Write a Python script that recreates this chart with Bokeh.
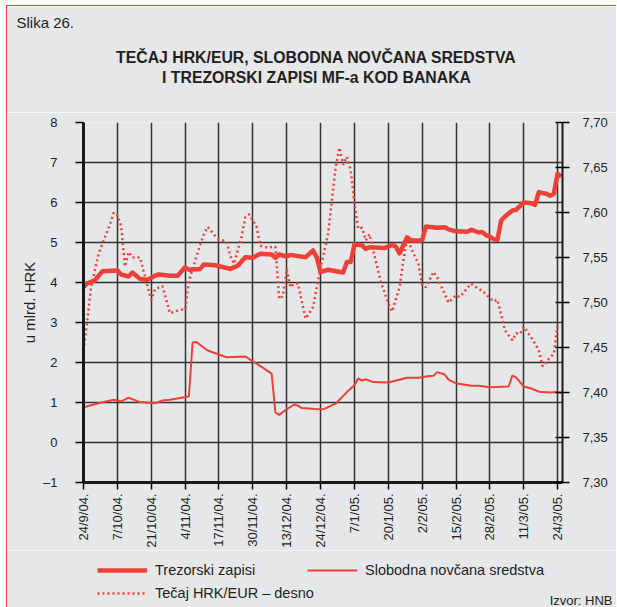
from bokeh.plotting import figure
from bokeh.models import Range1d, LinearAxis, FixedTicker, Label, Legend, LegendItem
from bokeh.layouts import column
from bokeh.embed import file_html
from bokeh.resources import INLINE
import math

# ---------------- data ----------------
date_labels = ["24/9/04.", "7/10/04.", "21/10/04.", "4/11/04.", "17/11/04.", "30/11/04.",
               "13/12/04.", "24/12/04.", "7/1/05.", "20/1/05.", "2/2/05.", "15/2/05.",
               "28/2/05.", "11/3/05.", "24/3/05."]
tick_days = [0, 9, 18, 27, 36, 45, 54, 63, 72, 81, 90, 99, 108, 117, 126]

# Trezorski zapisi (u mlrd. HRK), working-day index
tz_day = [0, 1, 3, 5, 9, 10, 12, 13, 15, 17, 19, 20, 23, 25, 27, 28, 31, 32, 35, 39,
          41, 43, 45, 47, 50, 51, 52, 54, 55, 59, 61, 62, 63, 65, 69, 70, 71, 72, 74, 75,
          76, 80, 82, 83, 84, 86, 87, 90, 91, 94, 96, 97, 99, 102, 103, 105, 106, 107, 108, 109,
          110, 111, 112, 114, 115, 117, 119, 120, 121, 123, 124, 125, 126, 127]
tz_val = [3.88, 3.98, 4.05, 4.28, 4.30, 4.20, 4.15, 4.25, 4.09, 4.07, 4.17, 4.20, 4.17, 4.17, 4.38, 4.32, 4.34, 4.45, 4.43, 4.34,
          4.42, 4.63, 4.62, 4.72, 4.70, 4.62, 4.70, 4.65, 4.69, 4.63, 4.80, 4.63, 4.26, 4.32, 4.25, 4.51, 4.51, 4.95, 4.93, 4.84,
          4.88, 4.86, 4.94, 4.90, 4.73, 5.13, 5.05, 5.05, 5.40, 5.37, 5.38, 5.33, 5.28, 5.27, 5.32, 5.25, 5.26, 5.18, 5.15, 5.08,
          5.07, 5.55, 5.65, 5.80, 5.82, 6.00, 5.98, 5.94, 6.26, 6.22, 6.17, 6.22, 6.72, 6.65]

# Slobodna novčana sredstva (u mlrd. HRK)
sn_day = [0, 4, 8, 10, 12, 15, 19, 21, 23, 28, 29, 30, 32, 33, 36, 38, 43, 46, 50, 51,
          52, 54, 56, 57, 58, 60, 62, 64, 67, 70, 72, 73, 74, 75, 77, 81, 86, 89, 92, 93,
          94, 96, 97, 99, 103, 105, 108, 113, 114, 115, 117, 119, 121, 124, 126, 127]
sn_val = [0.88, 0.98, 1.07, 1.03, 1.12, 1.01, 0.98, 1.05, 1.07, 1.15, 2.50, 2.51, 2.37, 2.30, 2.20, 2.13, 2.15, 1.97, 1.72, 0.75,
          0.69, 0.83, 0.95, 0.92, 0.86, 0.85, 0.83, 0.84, 0.97, 1.26, 1.43, 1.60, 1.55, 1.58, 1.51, 1.50, 1.62, 1.62, 1.66, 1.67,
          1.76, 1.70, 1.57, 1.48, 1.42, 1.42, 1.38, 1.40, 1.68, 1.62, 1.40, 1.35, 1.27, 1.25, 1.26, 1.24]

# Tečaj HRK/EUR (desna os)
fx_day = [0, 1, 2, 4, 6, 7, 8, 9, 10, 11, 12, 13, 15, 16, 18, 19, 21, 23, 25, 27,
          28, 30, 32, 33, 35, 36, 38, 39, 40, 42, 43, 44, 46, 47, 49, 51, 52, 53, 54, 55,
          56, 57, 59, 61, 63, 65, 66, 67, 68, 69, 70, 71, 72, 73, 74, 75, 76, 77, 79, 81,
          82, 84, 85, 86, 88, 89, 90, 91, 93, 94, 97, 99, 100, 103, 105, 106, 109, 110, 112, 114,
          115, 116, 117, 119, 121, 122, 124, 125, 126]
fx_val = [7.447, 7.480, 7.517, 7.554, 7.576, 7.586, 7.600, 7.597, 7.585, 7.540, 7.556, 7.550, 7.550, 7.534, 7.503, 7.515, 7.518, 7.488, 7.491, 7.493,
          7.524, 7.551, 7.576, 7.584, 7.574, 7.570, 7.568, 7.552, 7.543, 7.573, 7.595, 7.598, 7.584, 7.563, 7.561, 7.562, 7.504, 7.507, 7.537, 7.517,
          7.521, 7.521, 7.482, 7.495, 7.539, 7.576, 7.613, 7.650, 7.672, 7.653, 7.662, 7.647, 7.610, 7.582, 7.583, 7.569, 7.576, 7.558, 7.523, 7.499,
          7.490, 7.517, 7.547, 7.571, 7.552, 7.543, 7.519, 7.517, 7.534, 7.528, 7.500, 7.508, 7.506, 7.521, 7.515, 7.513, 7.501, 7.503, 7.469, 7.458,
          7.466, 7.465, 7.473, 7.461, 7.447, 7.429, 7.439, 7.443, 7.476]

left_ticks = [-1, 0, 1, 2, 3, 4, 5, 6, 7, 8]
left_labels = ["–1", "0", "1", "2", "3", "4", "5", "6", "7", "8"]
right_ticks = [7.30, 7.35, 7.40, 7.45, 7.50, 7.55, 7.60, 7.65, 7.70]
right_labels = ["7,30", "7,35", "7,40", "7,45", "7,50", "7,55", "7,60", "7,65", "7,70"]

series_names = ["Trezorski zapisi", "Slobodna novčana sredstva", "Tečaj HRK/EUR – desno"]

# ---------------- style ----------------
BG = "#e6e7e9"
RED = "#ee4036"
TXT = "#231f20"
GRID = "#333333"
FONT = "Liberation Sans"
W = 609
TOP_H = 106
BOT_H = 58

TZ_STYLE = dict(line_color=RED, line_width=4.5, line_join="round")
SN_STYLE = dict(line_color=RED, line_width=2)
FX_STYLE = dict(line_color=RED, line_width=2.5, line_dash="2 3")


def blank_fig(h):
    f = figure(width=W, height=h, x_range=Range1d(0, 1), y_range=Range1d(0, 1),
               x_axis_type=None, y_axis_type=None, output_backend="svg", toolbar_location=None,
               min_border=0, background_fill_color=BG, border_fill_color=BG, frame_align=False)
    f.outline_line_color = None
    f.xgrid.visible = False
    f.ygrid.visible = False
    return f


def add_label(f, text, x, y, size, align="left", style="normal"):
    f.add_layout(Label(x=x, y=y, x_units="screen", y_units="screen", text=text,
                       text_align=align, text_baseline="middle", text_font=FONT,
                       text_font_size=size, text_font_style=style, text_color=TXT))


# ---------- top: caption + title ----------
top = blank_fig(TOP_H)
add_label(top, "Slika 26.", 9, 90, "15px")
add_label(top, "TEČAJ HRK/EUR, SLOBODNA NOVČANA SREDSTVA", 309, 55, "15.8px", "center", "bold")
add_label(top, "I TREZORSKI ZAPISI MF-a KOD BANAKA", 309, 35, "15.8px", "center", "bold")

# ---------- main chart ----------
p = figure(frame_width=479, frame_height=360,
           x_range=Range1d(0, 127.3), y_range=Range1d(-1, 8),
           output_backend="svg", toolbar_location=None, frame_align=False,
           min_border_left=76, min_border_right=W - 76 - 479, min_border_top=10, min_border_bottom=66,
           background_fill_color=BG, border_fill_color=BG)
p.outline_line_color = None
p.extra_y_ranges = {"fx": Range1d(7.30, 7.70)}

xa = p.xaxis[0]
xa.ticker = FixedTicker(ticks=tick_days)
xa.major_label_overrides = {d: l for d, l in zip(tick_days, date_labels)}
xa.major_label_orientation = math.pi / 2
xa.axis_line_width = 3
xa.axis_line_color = "#1a1a1a"
xa.major_tick_in = 0
xa.major_tick_out = 7
xa.major_tick_line_width = 1.5
xa.minor_tick_line_color = None
xa.major_label_text_font = FONT
xa.major_label_text_font_size = "13px"
xa.major_label_text_color = TXT
xa.major_label_standoff = 4

ya = p.yaxis[0]
ya.ticker = FixedTicker(ticks=left_ticks)
ya.major_label_overrides = {t: l for t, l in zip(left_ticks, left_labels)}
ya.axis_line_width = 3
ya.axis_line_color = "#1a1a1a"
ya.major_tick_in = 0
ya.major_tick_out = 8
ya.major_tick_line_width = 1.5
ya.minor_tick_line_color = None
ya.major_label_text_font = FONT
ya.major_label_text_font_size = "13px"
ya.major_label_text_color = TXT
ya.major_label_standoff = 18
ya.axis_label = "u mlrd. HRK"
ya.axis_label_text_font = FONT
ya.axis_label_text_font_size = "15px"
ya.axis_label_text_font_style = "normal"
ya.axis_label_text_color = TXT
ya.axis_label_standoff = 2

ra = LinearAxis(y_range_name="fx", ticker=FixedTicker(ticks=right_ticks))
ra.major_label_overrides = {t: l for t, l in zip(right_ticks, right_labels)}
ra.axis_line_width = 2
ra.axis_line_color = "#1a1a1a"
ra.major_tick_in = 7
ra.major_tick_out = 7
ra.major_tick_line_width = 1.5
ra.minor_tick_line_color = None
ra.major_label_text_font = FONT
ra.major_label_text_font_size = "13px"
ra.major_label_text_color = TXT
ra.major_label_standoff = 13
p.add_layout(ra, "right")

p.xgrid.grid_line_color = GRID
p.xgrid.grid_line_width = 1.5
p.ygrid.grid_line_color = GRID
p.ygrid.grid_line_width = 1.5

p.line(fx_day, fx_val, y_range_name="fx", **FX_STYLE)
p.line(sn_day, sn_val, **SN_STYLE)
p.line(tz_day, tz_val, **TZ_STYLE)

# ---------- bottom: legend + source ----------
bot = blank_fig(BOT_H)
# legend-only renderers, placed outside the visible range of this strip
leg_tz = bot.line(x=[5, 6], y=[5, 6], **TZ_STYLE)
leg_sn = bot.line(x=[5, 6], y=[5, 6], **SN_STYLE)
leg_fx = bot.line(x=[5, 6], y=[5, 6], **FX_STYLE)


def add_legend(f, text, rend, x, y):
    lg = Legend(items=[LegendItem(label=text, renderers=[rend])], location=(x, y),
                orientation="horizontal", background_fill_alpha=0, border_line_color=None,
                padding=0, margin=0, spacing=0, glyph_width=50, glyph_height=20,
                label_height=20, label_standoff=8,
                label_text_font=FONT, label_text_font_size="14.5px", label_text_color=TXT)
    f.add_layout(lg, "center")


add_legend(bot, series_names[0], leg_tz, 90, 28)
add_legend(bot, series_names[1], leg_sn, 300, 28)
add_legend(bot, series_names[2], leg_fx, 90, 5)
add_label(bot, "Izvor: HNB", 605, 8, "13px", "right")

layout = column(top, p, bot, spacing=0)
layout.styles = {"margin-left": "6px", "margin-top": "5px",
                 "border-left": "1px solid #ee4036", "border-top": "1px solid #ee4036"}

open("out.html", "w").write(file_html(layout, INLINE))
